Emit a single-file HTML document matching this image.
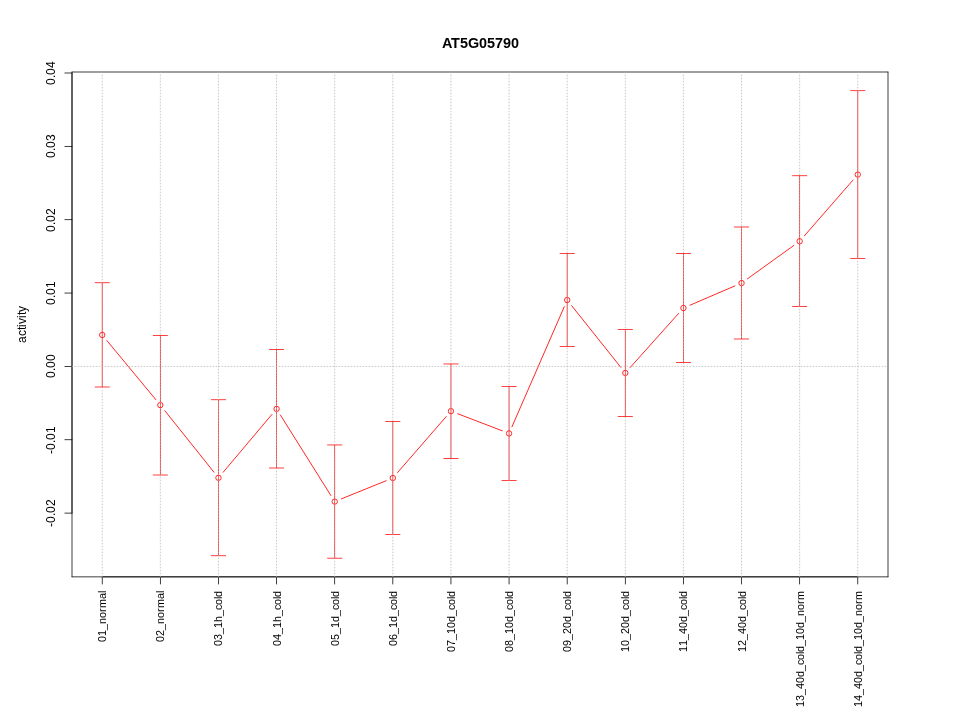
<!DOCTYPE html>
<html><head><meta charset="utf-8"><title>AT5G05790</title>
<style>
html,body{margin:0;padding:0;background:#fff;}
body{width:960px;height:720px;overflow:hidden;}
svg{display:block;will-change:transform;}
text{font-family:"Liberation Sans",sans-serif;fill:#000;}
.xl text{font-kerning:none;}
</style></head><body>
<svg width="960" height="720" viewBox="0 0 960 720">
<rect width="960" height="720" fill="#fff"/>
<g stroke="#f00" stroke-width="0.75" stroke-linecap="round" fill="none">
<line stroke-width="0.85" x1="106.82" y1="340.49" x2="155.75" y2="399.56"/>
<line stroke-width="0.85" x1="164.84" y1="410.72" x2="213.97" y2="472.18"/>
<line stroke-width="0.85" x1="223.10" y1="472.30" x2="271.94" y2="414.40"/>
<line stroke-width="0.85" x1="280.41" y1="415.00" x2="330.88" y2="495.50"/>
<line stroke-width="0.85" x1="341.37" y1="498.89" x2="386.15" y2="480.71"/>
<line stroke-width="0.85" x1="397.54" y1="472.57" x2="446.22" y2="416.58"/>
<line stroke-width="0.85" x1="457.66" y1="413.72" x2="502.34" y2="430.83"/>
<line stroke-width="0.85" x1="511.94" y1="426.80" x2="564.30" y2="306.65"/>
<line stroke-width="0.85" x1="571.67" y1="305.68" x2="620.81" y2="367.32"/>
<line stroke-width="0.85" x1="630.10" y1="367.59" x2="678.62" y2="313.41"/>
<line stroke-width="0.85" x1="690.03" y1="305.20" x2="734.92" y2="285.90"/>
<line stroke-width="0.85" x1="747.38" y1="278.85" x2="793.81" y2="245.45"/>
<line stroke-width="0.85" x1="804.39" y1="235.82" x2="853.05" y2="180.03"/>
</g>
<g fill="#f00">
<rect x="101.847" y="282.450" width="0.75" height="104.850"/><rect x="94.722" y="282.375" width="15.000" height="0.75"/><rect x="94.722" y="386.625" width="15.000" height="0.75"/>
<rect x="159.967" y="335.100" width="0.75" height="140.200"/><rect x="152.842" y="335.025" width="15.000" height="0.75"/><rect x="152.842" y="474.625" width="15.000" height="0.75"/>
<rect x="218.087" y="399.450" width="0.75" height="156.600"/><rect x="210.962" y="399.375" width="15.000" height="0.75"/><rect x="210.962" y="555.375" width="15.000" height="0.75"/>
<rect x="276.206" y="349.200" width="0.75" height="119.100"/><rect x="269.081" y="349.125" width="15.000" height="0.75"/><rect x="269.081" y="467.625" width="15.000" height="0.75"/>
<rect x="334.326" y="444.650" width="0.75" height="113.830"/><rect x="327.201" y="444.575" width="15.000" height="0.75"/><rect x="327.201" y="557.805" width="15.000" height="0.75"/>
<rect x="392.446" y="421.200" width="0.75" height="113.700"/><rect x="385.321" y="421.125" width="15.000" height="0.75"/><rect x="385.321" y="534.225" width="15.000" height="0.75"/>
<rect x="450.565" y="363.650" width="0.75" height="95.150"/><rect x="443.440" y="363.575" width="15.000" height="0.75"/><rect x="443.440" y="458.125" width="15.000" height="0.75"/>
<rect x="508.685" y="386.200" width="0.75" height="94.600"/><rect x="501.560" y="386.125" width="15.000" height="0.75"/><rect x="501.560" y="480.125" width="15.000" height="0.75"/>
<rect x="566.804" y="253.200" width="0.75" height="93.700"/><rect x="559.679" y="253.125" width="15.000" height="0.75"/><rect x="559.679" y="346.225" width="15.000" height="0.75"/>
<rect x="624.924" y="329.300" width="0.75" height="87.600"/><rect x="617.799" y="329.225" width="15.000" height="0.75"/><rect x="617.799" y="416.225" width="15.000" height="0.75"/>
<rect x="683.044" y="253.200" width="0.75" height="109.600"/><rect x="675.919" y="253.125" width="15.000" height="0.75"/><rect x="675.919" y="362.125" width="15.000" height="0.75"/>
<rect x="741.163" y="226.700" width="0.75" height="112.600"/><rect x="734.038" y="226.625" width="15.000" height="0.75"/><rect x="734.038" y="338.625" width="15.000" height="0.75"/>
<rect x="799.283" y="175.450" width="0.75" height="131.350"/><rect x="792.158" y="175.375" width="15.000" height="0.75"/><rect x="792.158" y="306.125" width="15.000" height="0.75"/>
<rect x="857.403" y="90.400" width="0.75" height="168.450"/><rect x="850.278" y="90.325" width="15.000" height="0.75"/><rect x="850.278" y="258.175" width="15.000" height="0.75"/>
</g>
<g stroke="#f00" stroke-width="0.83" fill="none">
<circle cx="102.22" cy="334.95" r="2.7"/>
<circle cx="160.34" cy="405.10" r="2.7"/>
<circle cx="218.46" cy="477.80" r="2.7"/>
<circle cx="276.58" cy="408.90" r="2.7"/>
<circle cx="334.70" cy="501.60" r="2.7"/>
<circle cx="392.82" cy="478.00" r="2.7"/>
<circle cx="450.94" cy="411.15" r="2.7"/>
<circle cx="509.06" cy="433.40" r="2.7"/>
<circle cx="567.18" cy="300.05" r="2.7"/>
<circle cx="625.30" cy="372.95" r="2.7"/>
<circle cx="683.42" cy="308.05" r="2.7"/>
<circle cx="741.54" cy="283.05" r="2.7"/>
<circle cx="799.66" cy="241.25" r="2.7"/>
<circle cx="857.78" cy="174.60" r="2.7"/>
</g>
<g fill="#000">
<rect x="101.922" y="576.500" width="756.156" height="0.75"/>
<rect x="101.847" y="576.575" width="0.75" height="7.800"/><rect x="159.967" y="576.575" width="0.75" height="7.800"/><rect x="218.087" y="576.575" width="0.75" height="7.800"/><rect x="276.206" y="576.575" width="0.75" height="7.800"/><rect x="334.326" y="576.575" width="0.75" height="7.800"/><rect x="392.446" y="576.575" width="0.75" height="7.800"/><rect x="450.565" y="576.575" width="0.75" height="7.800"/><rect x="508.685" y="576.575" width="0.75" height="7.800"/><rect x="566.804" y="576.575" width="0.75" height="7.800"/><rect x="624.924" y="576.575" width="0.75" height="7.800"/><rect x="683.044" y="576.575" width="0.75" height="7.800"/><rect x="741.163" y="576.575" width="0.75" height="7.800"/><rect x="799.283" y="576.575" width="0.75" height="7.800"/><rect x="857.403" y="576.575" width="0.75" height="7.800"/>
<rect x="71.625" y="72.700" width="0.75" height="440.700"/>
<rect x="64.500" y="512.725" width="7.800" height="0.75"/><rect x="64.500" y="439.375" width="7.800" height="0.75"/><rect x="64.500" y="366.025" width="7.800" height="0.75"/><rect x="64.500" y="292.675" width="7.800" height="0.75"/><rect x="64.500" y="219.325" width="7.800" height="0.75"/><rect x="64.500" y="145.975" width="7.800" height="0.75"/><rect x="64.500" y="72.625" width="7.800" height="0.75"/>
<rect x="71.700" y="71.625" width="816.600" height="0.75"/><rect x="887.625" y="71.700" width="0.75" height="505.475"/><rect x="71.700" y="576.500" width="816.600" height="0.75"/><rect x="71.625" y="71.700" width="0.75" height="505.475"/>
</g>
<g stroke="#b5b5b5" stroke-width="0.75" stroke-linecap="round" stroke-dasharray="0.75 2.25" fill="none">
<line x1="72.0" y1="366.4" x2="888.0" y2="366.4"/>
<line x1="102.22" y1="576.875" x2="102.22" y2="72.0"/>
<line x1="160.34" y1="576.875" x2="160.34" y2="72.0"/>
<line x1="218.46" y1="576.875" x2="218.46" y2="72.0"/>
<line x1="276.58" y1="576.875" x2="276.58" y2="72.0"/>
<line x1="334.70" y1="576.875" x2="334.70" y2="72.0"/>
<line x1="392.82" y1="576.875" x2="392.82" y2="72.0"/>
<line x1="450.94" y1="576.875" x2="450.94" y2="72.0"/>
<line x1="509.06" y1="576.875" x2="509.06" y2="72.0"/>
<line x1="567.18" y1="576.875" x2="567.18" y2="72.0"/>
<line x1="625.30" y1="576.875" x2="625.30" y2="72.0"/>
<line x1="683.42" y1="576.875" x2="683.42" y2="72.0"/>
<line x1="741.54" y1="576.875" x2="741.54" y2="72.0"/>
<line x1="799.66" y1="576.875" x2="799.66" y2="72.0"/>
<line x1="857.78" y1="576.875" x2="857.78" y2="72.0"/>
</g>
<text y="48" x="442 451 460 468 479 487 495 503 511" font-size="14.4" font-weight="bold">AT5G05790</text>
<text transform="translate(55 527) rotate(-90)" x="0 4 11 14 21" font-size="12">-0.02</text>
<text transform="translate(55 454) rotate(-90)" x="0 4 11 14 21" font-size="12">-0.01</text>
<text transform="translate(55 378) rotate(-90)" x="0 7 10 17" font-size="12">0.00</text>
<text transform="translate(55 305) rotate(-90)" x="0 7 10 17" font-size="12">0.01</text>
<text transform="translate(55 232) rotate(-90)" x="0 7 10 17" font-size="12">0.02</text>
<text transform="translate(55 158) rotate(-90)" x="0 7 10 17" font-size="12">0.03</text>
<text transform="translate(55 85) rotate(-90)" x="0 7 10 17" font-size="12">0.04</text>
<text transform="translate(26 343) rotate(-90)" x="0 7 13 16 19 25 28 31" font-size="12">activity</text>
<g class="xl">
<text transform="translate(106 642) rotate(-90)" x="0 6 12 18 24 30 34 43 49" font-size="10.8">01_normal</text>
<text transform="translate(164 642) rotate(-90)" x="0 6 12 18 24 30 34 43 49" font-size="10.8">02_normal</text>
<text transform="translate(222 646) rotate(-90)" x="0 6 12 18 24 30 36 41 47 49" font-size="10.8">03_1h_cold</text>
<text transform="translate(281 646) rotate(-90)" x="0 6 12 18 24 30 36 41 47 49" font-size="10.8">04_1h_cold</text>
<text transform="translate(339 646) rotate(-90)" x="0 6 12 18 24 30 36 41 47 49" font-size="10.8">05_1d_cold</text>
<text transform="translate(397 646) rotate(-90)" x="0 6 12 18 24 30 36 41 47 49" font-size="10.8">06_1d_cold</text>
<text transform="translate(455 652) rotate(-90)" x="0 6 12 18 24 30 36 42 47 53 55" font-size="10.8">07_10d_cold</text>
<text transform="translate(513 652) rotate(-90)" x="0 6 12 18 24 30 36 42 47 53 55" font-size="10.8">08_10d_cold</text>
<text transform="translate(571 652) rotate(-90)" x="0 6 12 18 24 30 36 42 47 53 55" font-size="10.8">09_20d_cold</text>
<text transform="translate(629 652) rotate(-90)" x="0 6 12 18 24 30 36 42 47 53 55" font-size="10.8">10_20d_cold</text>
<text transform="translate(687 652) rotate(-90)" x="0 6 12 18 24 30 36 42 47 53 55" font-size="10.8">11_40d_cold</text>
<text transform="translate(746 652) rotate(-90)" x="0 6 12 18 24 30 36 42 47 53 55" font-size="10.8">12_40d_cold</text>
<text transform="translate(804 707) rotate(-90)" x="0 6 12 18 24 30 36 42 47 53 55 61 67 73 79 85 91 97 103 107" font-size="10.8">13_40d_cold_10d_norm</text>
<text transform="translate(862 707) rotate(-90)" x="0 6 12 18 24 30 36 42 47 53 55 61 67 73 79 85 91 97 103 107" font-size="10.8">14_40d_cold_10d_norm</text>
</g>
</svg>
</body></html>
